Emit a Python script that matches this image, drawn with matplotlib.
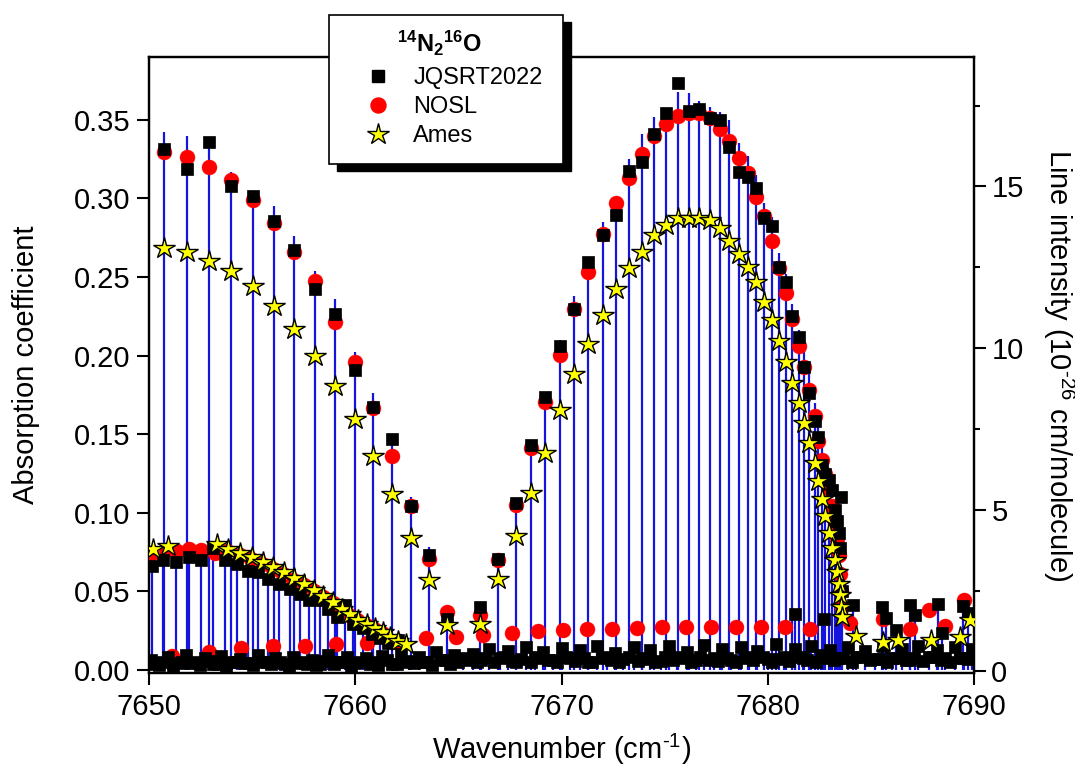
import matplotlib
matplotlib.use('Agg')
import matplotlib.pyplot as plt
from matplotlib.patches import Rectangle
from matplotlib.lines import Line2D
from matplotlib.ticker import MultipleLocator, FormatStrFormatter

plt.rcParams['font.family'] = ['Liberation Sans', 'DejaVu Sans']
plt.rcParams['mathtext.fontset'] = 'custom'
plt.rcParams['mathtext.rm'] = 'Liberation Sans'
plt.rcParams['mathtext.it'] = 'Liberation Sans:italic'
plt.rcParams['mathtext.bf'] = 'Liberation Sans:bold'

# ---------------- data ----------------
# strong band lines (P and R branches): positions (cm-1)
strong_wn = [7650.73, 7651.83, 7652.92, 7653.96, 7655.03, 7656.06, 7657.04, 7658.05, 7659.02, 7659.99,
             7660.86, 7661.78, 7662.70, 7663.58, 7664.45,
             7666.05, 7666.92, 7667.79, 7668.52, 7669.20, 7669.93, 7670.62, 7671.30, 7672.00, 7672.64,
             7673.27, 7673.89, 7674.48, 7675.07, 7675.63, 7676.18, 7676.68, 7677.20, 7677.68, 7678.13,
             7678.59, 7679.03, 7679.43, 7679.83, 7680.20, 7680.56, 7680.88, 7681.19, 7681.50, 7681.76,
             7682.00, 7682.29, 7682.45, 7682.63, 7682.79, 7682.95, 7683.10, 7683.26, 7683.37, 7683.45,
             7683.52, 7683.57, 7683.62]
# measured absorption coefficient (sticks, left axis)
strong_abs = [0.342, 0.340, 0.332, 0.317, 0.305, 0.295, 0.276, 0.254, 0.236, 0.202, 0.176, 0.148, 0.110, 0.078, 0.040,
              0.041, 0.073, 0.108, 0.142, 0.176, 0.210, 0.238, 0.262, 0.285, 0.300, 0.325, 0.341, 0.352, 0.356, 0.368,
              0.367, 0.362, 0.358, 0.355, 0.350, 0.335, 0.327, 0.315, 0.297, 0.288, 0.265, 0.252, 0.233, 0.216, 0.206,
              0.188, 0.170, 0.155, 0.142, 0.128, 0.117, 0.106, 0.095, 0.084, 0.074, 0.063, 0.052, 0.040]
# line intensities (right axis, 1e-26 cm/molecule)
strong_jqsrt = [16.16, 15.54, 16.36, 15.00, 14.69, 13.94, 13.04, 11.81, 11.04, 9.33, 8.19, 7.18, 5.12, 3.59, 1.63,
                1.99, 3.47, 5.21, 6.99, 8.50, 10.07, 11.20, 12.67, 13.50, 14.11, 15.46, 15.74, 16.63, 17.26, 18.20,
                17.33, 17.40, 17.12, 17.04, 16.23, 15.44, 15.29, 14.96, 14.02, 13.76, 12.52, 12.03, 10.99, 10.33, 9.40,
                8.62, 7.74, 7.26, 6.38, 6.10, 5.92, 5.61, 5.00, 4.66, 4.29, 3.83, 5.39, 2.50]
strong_nosl = [16.05, 15.90, 15.59, 15.21, 14.57, 13.87, 12.98, 12.06, 10.81, 9.58, 8.13, 6.66, 5.12, 3.47, 1.84,
               1.75, 3.44, 5.15, 6.90, 8.34, 9.79, 11.22, 12.36, 13.53, 14.48, 15.26, 16.01, 16.56, 16.93, 17.18,
               17.26, 17.26, 17.12, 16.78, 16.41, 15.88, 15.41, 14.67, 14.07, 13.30, 12.47, 11.71, 10.89, 10.06, 9.40,
               8.69, 7.91, 7.12, 6.53, 6.10, 5.60, 5.10, 4.60, 4.10, 3.60, 3.00, 2.50, 2.00]
strong_ames = [13.09, 12.98, 12.68, 12.37, 11.91, 11.30, 10.60, 9.76, 8.83, 7.79, 6.66, 5.49, 4.14, 2.82, 1.44,
               1.47, 2.85, 4.20, 5.52, 6.75, 8.07, 9.20, 10.12, 11.01, 11.81, 12.49, 12.98, 13.50, 13.80, 14.01,
               14.01, 14.03, 13.96, 13.71, 13.30, 12.91, 12.50, 12.03, 11.42, 10.86, 10.23, 9.58, 8.93, 8.31, 7.67,
               7.06, 6.44, 5.90, 5.34, 4.82, 4.29, 3.83, 3.44, 3.07, 2.70, 2.36, 1.99, 1.69]

# weaker band in the P region
weak_wn = [7650.13, 7650.69, 7651.31, 7651.95, 7652.52, 7653.12, 7653.68, 7654.25, 7654.81, 7655.30,
           7655.78, 7656.32, 7656.84, 7657.32, 7657.77, 7658.29, 7658.69, 7659.10, 7659.50, 7659.91,
           7660.36, 7660.80, 7661.20, 7661.60, 7662.09]
weak_abs = [0.068, 0.071, 0.070, 0.074, 0.071, 0.080, 0.071, 0.069, 0.064, 0.064, 0.059, 0.056, 0.053, 0.050,
            0.046, 0.046, 0.040, 0.035, 0.043, 0.031, 0.028, 0.025, 0.021, 0.018, 0.020]
weak_jqsrt = [3.27, 3.43, 3.37, 3.55, 3.43, 3.83, 3.43, 3.32, 3.10, 3.07, 2.86, 2.71, 2.56, 2.40, 2.22, 2.22,
              1.94, 1.69, 2.05, 1.48, 1.33, 1.17, 1.02, 0.87, 0.97]
weak_nosl_wn = [7650.05, 7650.80, 7651.34, 7651.95, 7652.52, 7653.20, 7653.80, 7654.40, 7654.95, 7655.50,
                7656.00, 7656.50, 7657.00, 7657.50, 7658.00, 7658.45, 7658.90, 7659.30, 7659.70, 7660.10,
                7660.50, 7660.90, 7661.30]
weak_nosl = [3.60, 3.75, 3.73, 3.78, 3.75, 3.65, 3.72, 3.60, 3.48, 3.32, 3.18, 3.00, 2.84, 2.66, 2.48, 2.30,
             2.10, 1.92, 1.75, 1.58, 1.44, 1.30, 1.18]
weak_ames_wn = [7650.21, 7650.94, 7653.31, 7653.84, 7654.41, 7654.98, 7655.54, 7656.03, 7656.55, 7657.03,
                7657.53, 7658.00, 7658.45, 7658.91, 7659.34, 7659.75, 7660.15, 7660.56, 7660.96, 7661.36,
                7661.68, 7662.05, 7662.45]
weak_ames = [3.78, 3.89, 3.94, 3.78, 3.65, 3.53, 3.37, 3.22, 3.07, 2.88, 2.71, 2.52, 2.33, 2.15, 1.94, 1.76,
             1.60, 1.48, 1.35, 1.23, 1.07, 0.95, 0.85]

# low NOSL series
low_nosl_wn = [7651.10, 7652.91, 7654.46, 7656.03, 7657.56, 7659.07, 7660.56, 7662.02, 7663.43, 7664.87,
               7666.20, 7667.60, 7668.85, 7670.05, 7671.25, 7672.45, 7673.65, 7674.85, 7676.05, 7677.25,
               7678.45, 7679.65, 7680.85, 7682.05]
low_nosl = [0.49, 0.61, 0.71, 0.77, 0.79, 0.84, 0.87, 0.92, 1.02, 1.07, 1.12, 1.20, 1.25, 1.28, 1.30, 1.32,
            1.35, 1.38, 1.38, 1.38, 1.38, 1.38, 1.38, 1.30]

# lines beyond the band head
head_wn = [7681.32, 7682.74, 7684.13, 7685.52, 7686.90, 7688.24, 7689.45, 7685.75, 7686.24, 7687.13, 7688.43, 7689.70]
head_jqsrt = [1.79, 1.63, 2.06, 2.00, 2.06, 2.09, 2.03, 1.64, 1.28, 1.75, 1.18, 1.80]
head_abs = [0.036, 0.033, 0.039, 0.038, 0.039, 0.040, 0.039, 0.031, 0.024, 0.033, 0.022, 0.034]
head_nosl_wn = [7684.00, 7685.60, 7686.90, 7687.80, 7688.60, 7689.50]
head_nosl = [1.50, 1.63, 1.30, 1.89, 1.40, 2.20]
head_ames_wn = [7684.30, 7685.60, 7686.30, 7687.90, 7689.30, 7689.80]
head_ames = [1.10, 0.92, 0.97, 0.97, 1.07, 1.60]

# dense weak lines along the baseline
base_wn = [7650.1, 7650.5, 7650.9, 7651.4, 7651.8, 7652.2, 7652.7, 7653.1, 7653.5, 7654.0,
           7654.4, 7654.8, 7655.3, 7655.7, 7656.1, 7656.6, 7657.0, 7657.4, 7657.9, 7658.3,
           7658.7, 7659.2, 7659.6, 7660.0, 7660.5, 7660.9, 7661.3, 7661.8, 7662.2, 7662.6,
           7663.1, 7663.5, 7663.9, 7664.4, 7664.8, 7665.2, 7665.7, 7666.1, 7666.5, 7667.0,
           7667.4, 7667.8, 7668.3, 7668.7, 7669.1, 7669.6, 7670.0, 7670.4, 7670.9, 7671.3,
           7671.7, 7672.2, 7672.6, 7673.0, 7673.5, 7673.9, 7674.3, 7674.8, 7675.2, 7675.6,
           7676.1, 7676.5, 7676.9, 7677.4, 7677.8, 7678.2, 7678.7, 7679.1, 7679.5, 7680.0,
           7680.4, 7680.8, 7681.3, 7681.7, 7682.1, 7682.6, 7683.0, 7683.4, 7683.9, 7684.3,
           7684.7, 7685.2, 7685.6, 7686.0, 7686.5, 7686.9, 7687.3, 7687.8, 7688.2, 7688.6,
           7689.1, 7689.5, 7689.9]
base_jqsrt = [0.35, 0.20, 0.45, 0.25, 0.50, 0.30, 0.40, 0.22, 0.48, 0.30,
              0.38, 0.25, 0.52, 0.28, 0.42, 0.24, 0.46, 0.30, 0.36, 0.22,
              0.50, 0.28, 0.44, 0.26, 0.40, 0.30, 0.48, 0.24, 0.55, 0.32,
              0.45, 0.28, 0.60, 0.35, 0.50, 0.40,
              0.55, 0.35, 0.70, 0.40, 0.62, 0.30, 0.75, 0.45, 0.60, 0.35,
              0.72, 0.40, 0.65, 0.30, 0.80, 0.45, 0.58, 0.38, 0.75, 0.42,
              0.66, 0.32, 0.78, 0.45, 0.60, 0.36, 0.82, 0.40, 0.70, 0.35,
              0.76, 0.44, 0.62, 0.38, 0.85, 0.45, 0.70, 0.40, 0.80, 0.50,
              0.65, 0.40, 0.75, 0.45, 0.62, 0.38, 0.80, 0.42, 0.70, 0.35,
              0.78, 0.45, 0.66, 0.40, 0.75, 0.42, 0.70]
base2_wn = [7650.3, 7650.7, 7651.15, 7651.6, 7652.0, 7652.45, 7652.9, 7653.3, 7653.75, 7654.2,
            7654.6, 7655.05, 7655.5, 7655.9, 7656.35, 7656.8, 7657.2, 7657.65, 7658.1, 7658.5,
            7658.95, 7659.4, 7659.8, 7660.25, 7660.7, 7661.1, 7661.55, 7662.0, 7662.4, 7662.85,
            7663.3, 7663.7, 7664.15, 7664.6, 7665.0, 7665.45, 7665.9, 7666.3, 7666.75, 7667.2,
            7667.6, 7668.05, 7668.5, 7668.9, 7669.35, 7669.8, 7670.2, 7670.65, 7671.1, 7671.5,
            7671.95, 7672.4, 7672.8, 7673.25, 7673.7, 7674.1, 7674.55, 7675.0, 7675.4, 7675.85,
            7676.3, 7676.7, 7677.15, 7677.6, 7678.0, 7678.45, 7678.9, 7679.3, 7679.75, 7680.2,
            7680.6, 7681.05, 7681.5, 7681.9, 7682.35, 7682.8, 7683.2, 7683.65, 7684.1, 7684.5,
            7684.95, 7685.4, 7685.8, 7686.25, 7686.7, 7687.1, 7687.55, 7688.0, 7688.4, 7688.85,
            7689.3, 7689.7]
base2_jqsrt = [0.22, 0.30, 0.18, 0.28, 0.25, 0.20, 0.32, 0.24, 0.18, 0.30,
               0.26, 0.20, 0.28, 0.22, 0.30, 0.18, 0.26, 0.24, 0.20, 0.32,
               0.22, 0.28, 0.18, 0.30, 0.24, 0.20, 0.34, 0.22, 0.28, 0.26,
               0.30, 0.20, 0.36, 0.24, 0.30,
               0.35, 0.28, 0.40, 0.30, 0.45,
               0.32, 0.38, 0.28, 0.42, 0.35, 0.30, 0.45, 0.33, 0.40, 0.28,
               0.42, 0.35, 0.30, 0.46, 0.32, 0.38, 0.28, 0.44, 0.34, 0.40,
               0.30, 0.45, 0.36, 0.32, 0.42, 0.28, 0.40, 0.35, 0.46, 0.30,
               0.38, 0.32, 0.44, 0.36, 0.30, 0.42, 0.34, 0.40, 0.30, 0.45,
               0.35, 0.38, 0.30, 0.42, 0.34, 0.40, 0.32, 0.45, 0.36, 0.30,
               0.42, 0.38]
base_abs = [v * 0.02 for v in base_jqsrt]   # intensity -> absorption units

# ---------------- style ----------------
BLUE = '#1414dc'
RED = '#ff0000'
YEL = '#ffff00'
sq_kw = dict(ls='none', marker='s', ms=9.2, mfc='black', mec='black', mew=0.5, zorder=4)
ci_kw = dict(ls='none', marker='o', ms=10.8, mfc=RED, mec=RED, mew=0.3, zorder=3)
st_kw = dict(ls='none', marker='*', ms=16, mfc=YEL, mec='black', mew=1.0, zorder=5)

fig = plt.figure(figsize=(10.75, 7.69), dpi=100)
ax = fig.add_axes([149/1075, 1-673/769, (974-149)/1075, (673-57)/769])
ax2 = ax.twinx()

ax.vlines(strong_wn, 0, strong_abs, color=BLUE, lw=1.6)
ax.vlines(weak_wn, 0, weak_abs, color=BLUE, lw=1.6)
ax.vlines(head_wn, 0, head_abs, color=BLUE, lw=1.6)
ax.vlines(base_wn, 0, base_abs, color=BLUE, lw=1.6)

for xs, ys in [(low_nosl_wn, low_nosl), (weak_nosl_wn, weak_nosl), (strong_wn, strong_nosl), (head_nosl_wn, head_nosl)]:
    ax2.plot(xs, ys, **ci_kw)
for xs, ys in [(base2_wn, base2_jqsrt), (base_wn, base_jqsrt), (weak_wn, weak_jqsrt),
               (strong_wn, strong_jqsrt), (head_wn, head_jqsrt)]:
    ax2.plot(xs, ys, **sq_kw)
for xs, ys in [(weak_ames_wn, weak_ames), (strong_wn, strong_ames), (head_ames_wn, head_ames)]:
    ax2.plot(xs, ys, **st_kw)

ax.set_xlim(7650, 7690)
ax.set_ylim(-0.002, 0.390)
ax2.set_ylim(-0.05, 19.0)

ax.xaxis.set_major_locator(MultipleLocator(10))
ax.yaxis.set_major_locator(MultipleLocator(0.05))
ax.yaxis.set_major_formatter(FormatStrFormatter('%.2f'))
ax2.yaxis.set_major_locator(MultipleLocator(5))
ax2.yaxis.set_minor_locator(MultipleLocator(2.5))

for a in (ax, ax2):
    for s in a.spines.values():
        s.set_linewidth(1.6)
    a.tick_params(which='major', direction='out', length=8.5, width=1.5, labelsize=21, pad=5)
    a.tick_params(which='minor', direction='out', length=4.5, width=1.5)
ax.tick_params(axis='x', pad=6)
ax2.tick_params(axis='y', pad=4)

ax.set_xlabel('Wavenumber (cm$^{\u20101}$)', fontsize=21, labelpad=8)
ax.set_ylabel('Absorption coefficient', fontsize=21, labelpad=24)
ax2.set_ylabel('Line intensity (10$^{\u201026}$ cm/molecule)', fontsize=21, rotation=270, labelpad=38)

# legend box with shadow
lx0, ly0, lw_, lh_ = 329/1075, 1-164/769, 234/1075, 149/769
fig.patches.append(Rectangle((lx0 + 8/1075, ly0 - 7/769), lw_, lh_, transform=fig.transFigure,
                             facecolor='black', edgecolor='black', zorder=8))
fig.patches.append(Rectangle((lx0, ly0), lw_, lh_, transform=fig.transFigure,
                             facecolor='white', edgecolor='black', lw=1.2, zorder=9))
fig.text(440/1075, 1-43/769, r'$\mathbf{^{14}N_2{}^{16}O}$', fontsize=17, ha='center', va='center', zorder=10)
handles = [Line2D([], [], ls='none', marker='s', ms=9.2, mfc='black', mec='black'),
           Line2D([], [], ls='none', marker='o', ms=10.8, mfc=RED, mec=RED),
           Line2D([], [], ls='none', marker='*', ms=16, mfc=YEL, mec='black', mew=1.0)]
leg = fig.legend(handles, ['JQSRT2022', 'NOSL', 'Ames'], loc='upper left',
                 bbox_to_anchor=(366/1075, 1-67/769), frameon=False, fontsize=17,
                 handlelength=1.0, handletextpad=1.0, labelspacing=0.3,
                 borderpad=0, borderaxespad=0)
leg.set_zorder(10)

fig.savefig('out.png', dpi=100)
